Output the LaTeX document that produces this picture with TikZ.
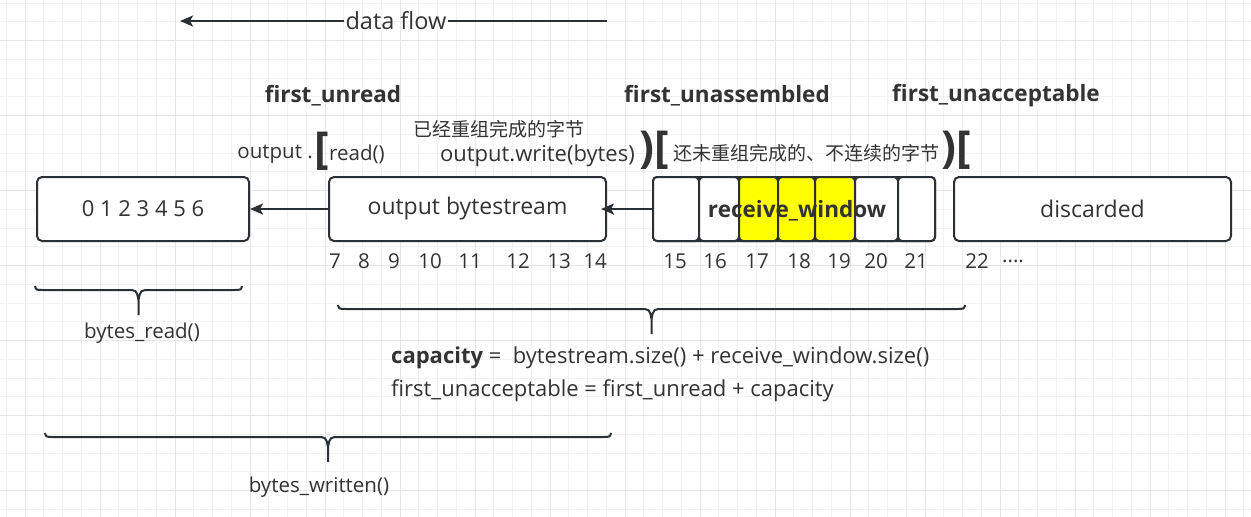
\documentclass[tikz,border=0pt]{standalone}
\usepackage{fontspec}
\setmainfont{Open Sans}
\newfontfamily\cjk{Noto Sans CJK SC}
\usetikzlibrary{arrows.meta}

\definecolor{ink}{HTML}{2B3036}
\definecolor{txt}{HTML}{333333}
\definecolor{hilite}{HTML}{FFFF00}

\tikzset{
  box/.style={draw=ink,line width=2pt,rounded corners=5pt,fill=white,minimum height=64pt,inner sep=0pt,text=txt,font=\fontsize{23}{27}\selectfont},
  cell/.style={draw=ink,line width=2pt,rounded corners=4pt,fill=white,minimum height=64pt,inner sep=0pt},
  lbl/.style={text=txt,font=\fontsize{22}{26}\selectfont,inner sep=1pt},
  small/.style={text=txt,font=\fontsize{20.5}{24}\selectfont,inner sep=1pt},
  head/.style={text=txt,font=\fontsize{22.5}{26}\selectfont\bfseries,inner sep=1pt},
  hanzi/.style={text=txt,font=\cjk\fontsize{19}{23}\selectfont,inner sep=1pt},
  brkt/.style={text=txt,font=\fontsize{44}{44}\selectfont\bfseries,inner sep=0pt},
  num/.style={text=txt,font=\fontsize{20.5}{24}\selectfont,inner sep=0pt},
  flow/.style={draw=ink,line width=2pt,-{Stealth[length=13pt,width=11pt,inset=3pt]}},
  brc/.style={draw=ink,line width=2pt},
  gridminor/.style={draw=gray!10,line width=1pt},
  gridmajor/.style={draw=gray!20,line width=1pt}
}

% curly brace opening upwards: left x, right x, y of the bar
\newcommand{\ubrace}[3]{%
  \draw[brc] (#1,#3-4) .. controls (#1+1,#3) .. (#1+9,#3)
    -- ({(#1+#2)/2-12},#3) .. controls ({(#1+#2)/2-2},#3) .. ({(#1+#2)/2},#3+10) -- ({(#1+#2)/2},#3+25)
    ({(#1+#2)/2},#3+10) .. controls ({(#1+#2)/2+2},#3) .. ({(#1+#2)/2+12},#3)
    -- (#2-9,#3) .. controls (#2-1,#3) .. (#2,#3-4);}

\begin{document}
\begin{tikzpicture}[x=1pt,y=-1pt]
\useasboundingbox (0,0) rectangle (1251,517);
\fill[white] (0,0) rectangle (1251,517);

% background grid
\foreach \i in {0,...,66} \draw[gridminor] ({6.25+18.75*\i},0) -- ({6.25+18.75*\i},517);
\foreach \j in {0,...,27} \draw[gridminor] (0,{3.2+18.75*\j}) -- (1251,{3.2+18.75*\j});
\foreach \i in {0,...,16} \draw[gridmajor] ({25+75*\i},0) -- ({25+75*\i},517);
\foreach \j in {0,...,6} \draw[gridmajor] (0,{40.7+75*\j}) -- (1251,{40.7+75*\j});

% data flow
\node[lbl,font=\fontsize{23.5}{27}\selectfont] (df) at (396,21) {data flow};
\coordinate (dfR) at (607,21);
\coordinate (dfL) at (180,21);
\draw[draw=ink,line width=2pt] (dfR) -- (df.east);
\draw[flow] (df.west) -- (dfL);

% pointers
\node[head] (fu) at (333,96) {first\_unread};
\node[head] (fua) at (727,96) {first\_unassembled};
\node[head] (fuc) at (996,96) {first\_unacceptable};

\node[hanzi] (done) at (499,129) {已经重组完成的字节};
\node[hanzi] (todo) at (806,153) {还未重组完成的、不连续的字节};
\node[small,anchor=east] (rd1) at (314,154) {output .};
\node[small,anchor=west] (rd2) at (328,154) {read()};
\node[lbl,anchor=east] (wr) at (636,156) {output.write(bytes)};

\node[brkt] (b1) at (322,151) {[};
\node[brkt] (b2) at (654,150) {)[};
\node[brkt] (b3) at (956,150) {)[};

% boxes
\node[box,minimum width=212pt,font=\fontsize{22}{26}\selectfont] (rdbox) at (143,209) {0 1 2 3 4 5 6};
\node[box,minimum width=277pt] (bs) at (467.5,209) {output bytestream};
\node[cell,minimum width=282pt] (rw) at (794,209) {};
\node[cell,minimum width=46pt] (c15) at (676,209) {};
\node[cell,minimum width=40pt] (c16) at (719,209) {};
\node[cell,minimum width=39pt,fill=hilite] (c17) at (758.5,209) {};
\node[cell,minimum width=37pt,fill=hilite] (c18) at (796.5,209) {};
\node[cell,minimum width=40pt,fill=hilite] (c19) at (835,209) {};
\node[cell,minimum width=43pt] (c20) at (876.5,209) {};
\node[cell,minimum width=37pt] (c21) at (916.5,209) {};
\node[head] (rwl) at (797,211) {receive\_window};
\node[box,minimum width=277pt] (disc) at (1092.5,209) {discarded};

\draw[flow] (bs.west) -- (rdbox.east);
\draw[flow,shorten >=-6pt] (rw.west) -- (bs.east);

% byte indices
\foreach \x/\n in {335/7,364/8,394/9,430/10,470/11,518/12,559/13,595/14,675/15,715/16,757/17,799/18,839/19,876/20,916/21,977/22}
  \node[num] (n\n) at (\x,261) {\n};
\node[num] (ndots) at (1013,261) {....};

% braces
\ubrace{35}{242}{290}
\node[small] (bread) at (142,333) {bytes\_read()};
\ubrace{338}{965}{309}
\node[lbl,anchor=west] (cap) at (390,358) {\textbf{capacity} =\ \ bytestream.size() + receive\_window.size()};
\node[lbl,anchor=west] (facc) at (390,391) {first\_unacceptable = first\_unread + capacity};
\ubrace{45}{611}{437}
\node[small] (bwr) at (319,487) {bytes\_written()};
\end{tikzpicture}
\end{document}
